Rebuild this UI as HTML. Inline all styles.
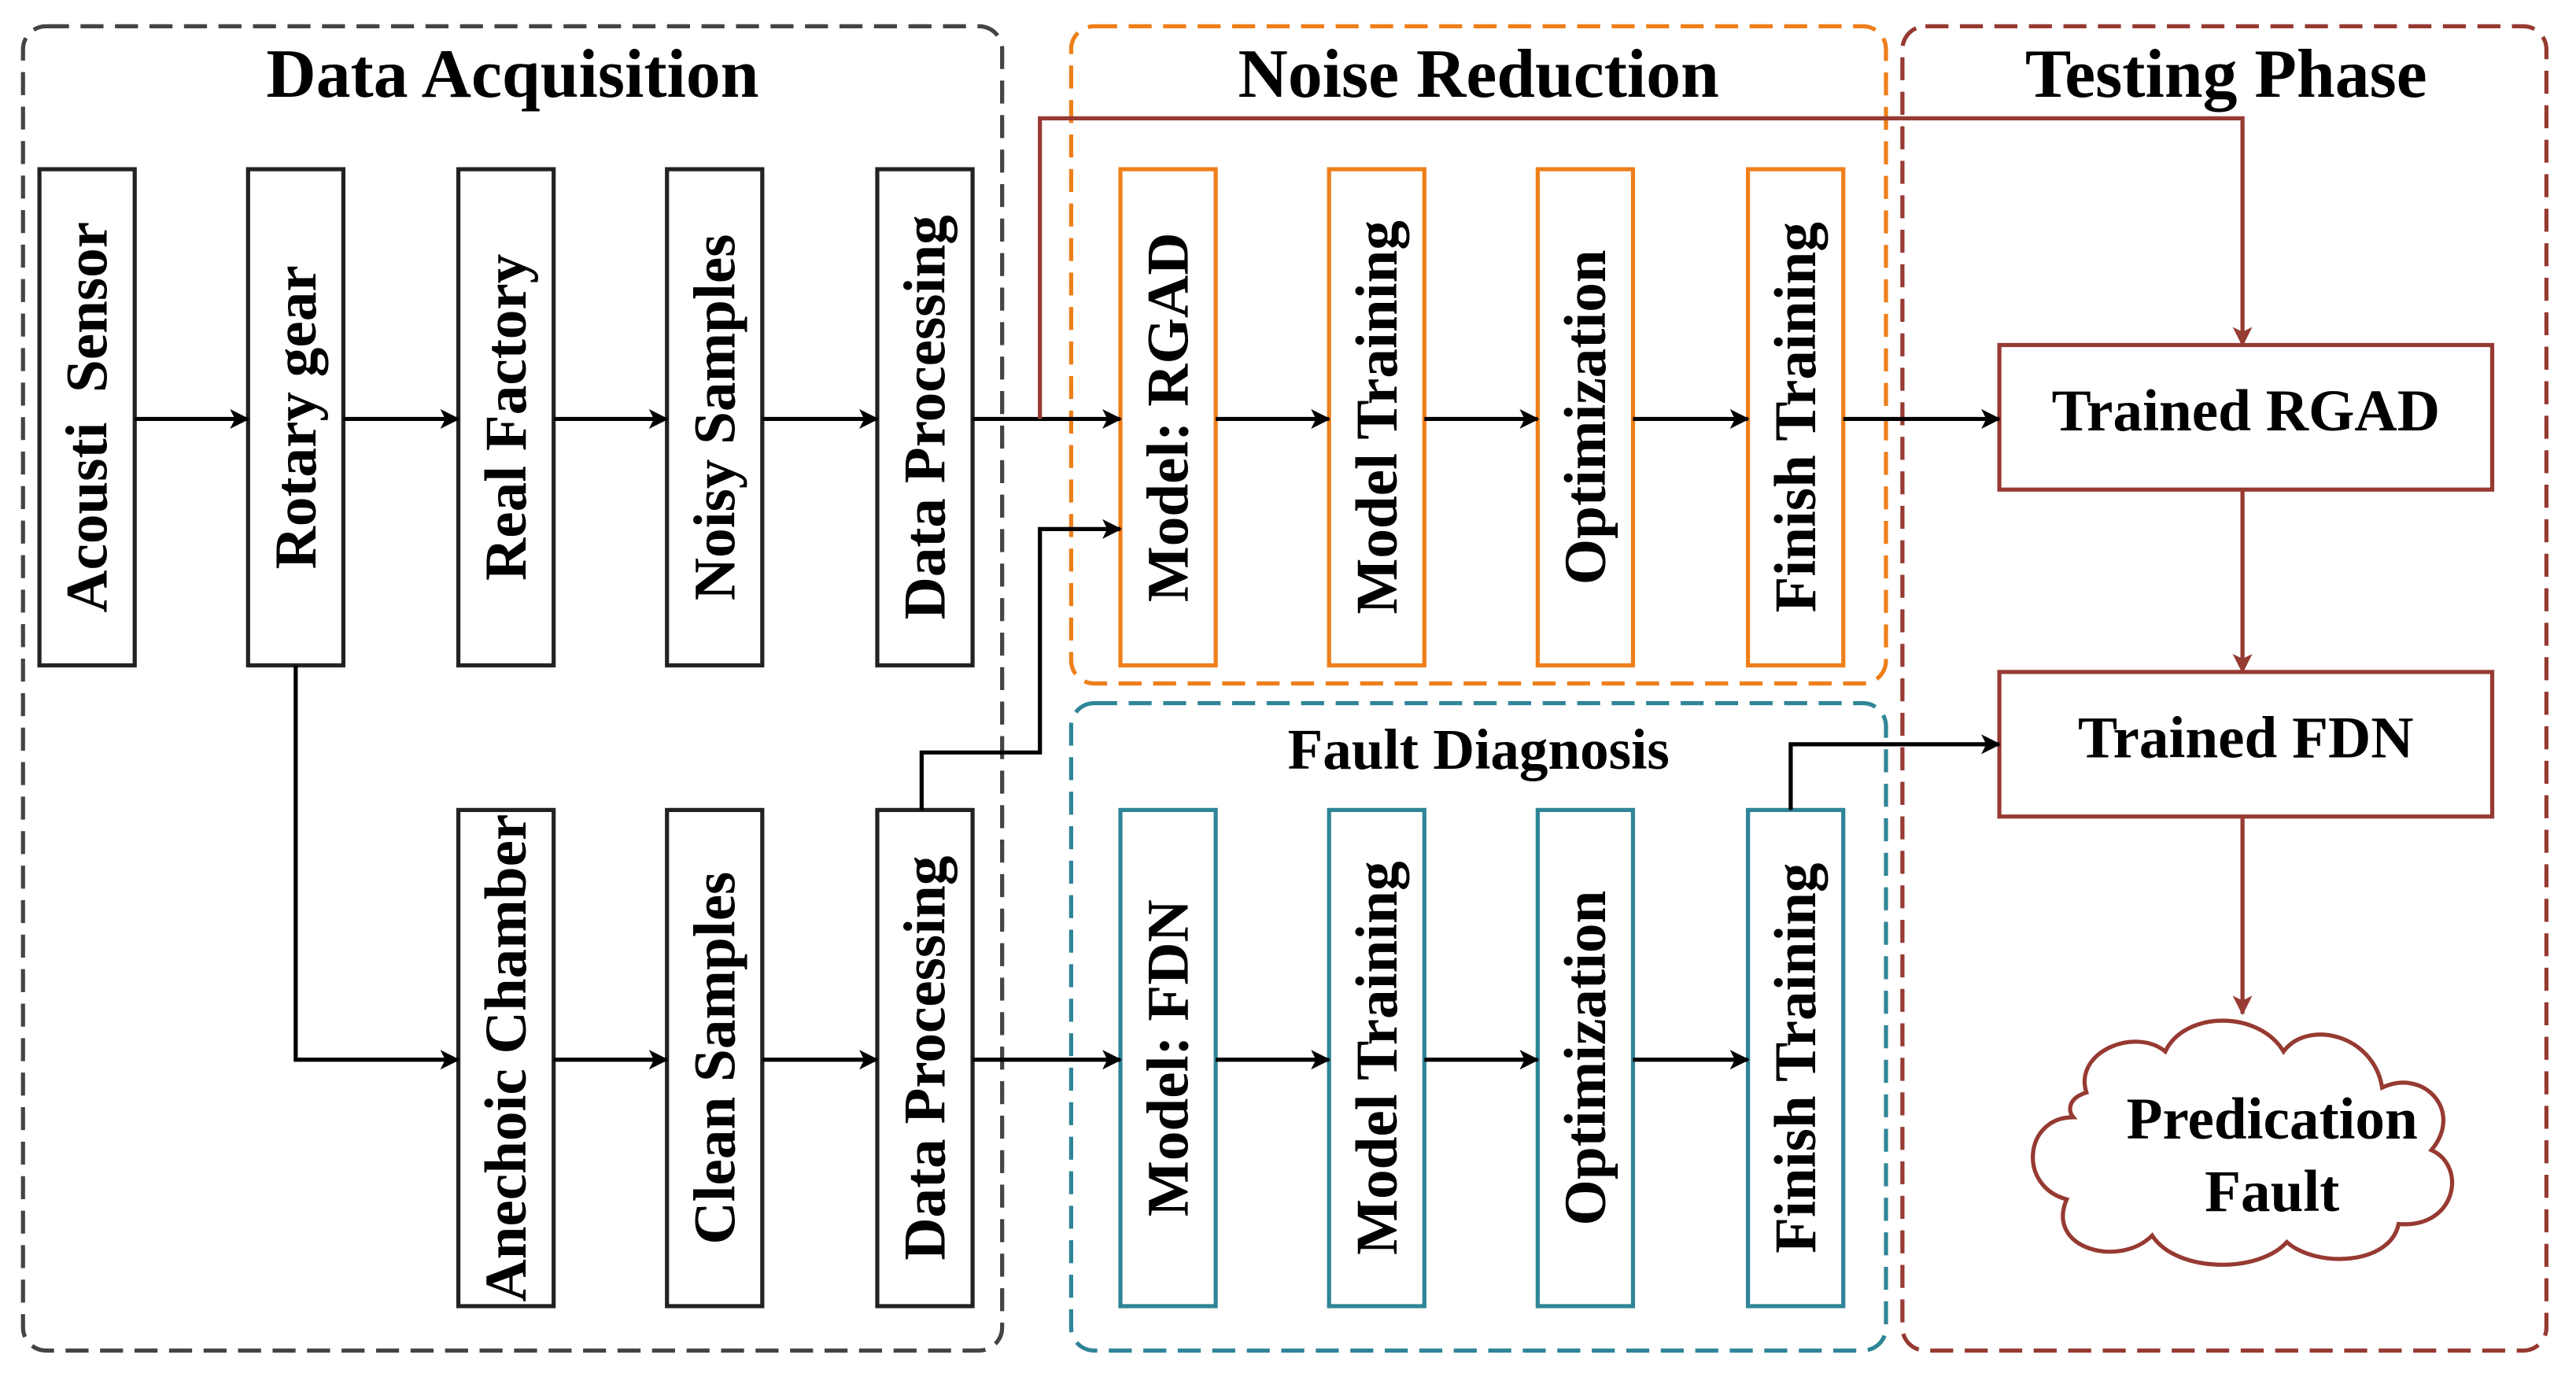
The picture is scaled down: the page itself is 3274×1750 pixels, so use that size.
<!DOCTYPE html>
<html><head><meta charset="utf-8"><style>html,body{margin:0;padding:0;background:#fff}svg{display:block}</style></head>
<body>
<svg width="3274" height="1750" viewBox="0 0 3274 1750" xmlns="http://www.w3.org/2000/svg">
<defs>
<marker id="ak" markerWidth="12" markerHeight="12" refX="11" refY="6" orient="auto" markerUnits="userSpaceOnUse"><path d="M0,0 L12,6 L0,12 L3,6 z" fill="#000"/></marker>
<marker id="ar" markerWidth="12" markerHeight="12" refX="11" refY="6" orient="auto" markerUnits="userSpaceOnUse"><path d="M0,0 L12,6 L0,12 L3,6 z" fill="#963a32"/></marker>
</defs>
<g transform="scale(2.088)" font-family="'Liberation Serif',serif" font-weight="bold">
<rect x="14" y="16" width="596" height="806" rx="14" fill="none" stroke="#444" stroke-width="2.5" stroke-dasharray="14,7"/>
<rect x="652" y="16" width="496" height="400" rx="14" fill="none" stroke="#ee7f1a" stroke-width="2.5" stroke-dasharray="14,7"/>
<rect x="652" y="428" width="496" height="394" rx="14" fill="none" stroke="#2f8597" stroke-width="2.5" stroke-dasharray="14,7"/>
<rect x="1158" y="16" width="392" height="806" rx="14" fill="none" stroke="#963a32" stroke-width="2.5" stroke-dasharray="14,7"/>
<g font-size="42" text-anchor="middle" fill="#000">
<text x="312" y="59">Data Acquisition</text>
<text x="900" y="59">Noise Reduction</text>
<text x="1355" y="59">Testing Phase</text>
</g>
<text x="900" y="468" font-size="35" text-anchor="middle">Fault Diagnosis</text>
<g fill="#fff" stroke-width="2.5">
<g stroke="#222">
<rect x="24" y="103" width="58" height="302"/><rect x="151" y="103" width="58" height="302"/>
<rect x="279" y="103" width="58" height="302"/><rect x="406" y="103" width="58" height="302"/>
<rect x="534" y="103" width="58" height="302"/>
<rect x="279" y="493" width="58" height="302"/><rect x="406" y="493" width="58" height="302"/>
<rect x="534" y="493" width="58" height="302"/>
</g>
<g stroke="#ee7f1a">
<rect x="682" y="103" width="58" height="302"/><rect x="809" y="103" width="58" height="302"/>
<rect x="936" y="103" width="58" height="302"/><rect x="1064" y="103" width="58" height="302"/>
</g>
<g stroke="#2f8597">
<rect x="682" y="493" width="58" height="302"/><rect x="809" y="493" width="58" height="302"/>
<rect x="936" y="493" width="58" height="302"/><rect x="1064" y="493" width="58" height="302"/>
</g>
<g stroke="#963a32">
<rect x="1217" y="210" width="300" height="88"/><rect x="1217" y="409" width="300" height="88"/>
</g>
</g>
<g font-size="36" text-anchor="middle" fill="#000">
<text transform="translate(65,254) rotate(-90)" xml:space="preserve">Acousti  Sensor</text>
<text transform="translate(192,254) rotate(-90)">Rotary gear</text>
<text transform="translate(320,254) rotate(-90)">Real Factory</text>
<text transform="translate(447,254) rotate(-90)">Noisy Samples</text>
<text transform="translate(575,254) rotate(-90)">Data Processing</text>
<text transform="translate(723,254) rotate(-90)">Model: RGAD</text>
<text transform="translate(850,254) rotate(-90)">Model Training</text>
<text transform="translate(977,254) rotate(-90)">Optimization</text>
<text transform="translate(1105,254) rotate(-90)">Finish Training</text>
<text transform="translate(320,644) rotate(-90)">Anechoic Chamber</text>
<text transform="translate(447,644) rotate(-90)">Clean Samples</text>
<text transform="translate(575,644) rotate(-90)">Data Processing</text>
<text transform="translate(723,644) rotate(-90)">Model: FDN</text>
<text transform="translate(850,644) rotate(-90)">Model Training</text>
<text transform="translate(977,644) rotate(-90)">Optimization</text>
<text transform="translate(1105,644) rotate(-90)">Finish Training</text>
</g>
<g font-size="36" text-anchor="middle" fill="#000">
<text x="1367" y="262">Trained RGAD</text>
<text x="1367" y="461">Trained FDN</text>
</g>
<g stroke="#000" stroke-width="2.5" fill="none" marker-end="url(#ak)">
<line x1="82" y1="255" x2="151" y2="255"/><line x1="209" y1="255" x2="279" y2="255"/>
<line x1="337" y1="255" x2="406" y2="255"/><line x1="464" y1="255" x2="534" y2="255"/>
<line x1="592" y1="255" x2="682" y2="255"/><line x1="740" y1="255" x2="809" y2="255"/>
<line x1="867" y1="255" x2="936" y2="255"/><line x1="994" y1="255" x2="1064" y2="255"/>
<line x1="1122" y1="255" x2="1217" y2="255"/>
<polyline points="180,405 180,645 279,645"/>
<line x1="337" y1="645" x2="406" y2="645"/><line x1="464" y1="645" x2="534" y2="645"/>
<line x1="592" y1="645" x2="682" y2="645"/><line x1="740" y1="645" x2="809" y2="645"/>
<line x1="867" y1="645" x2="936" y2="645"/><line x1="994" y1="645" x2="1064" y2="645"/>
<polyline points="561,493 561,458 633,458 633,322 682,322"/>
<polyline points="1090,493 1090,453 1217,453"/>
</g>
<g stroke="#963a32" stroke-width="2.5" fill="none" marker-end="url(#ar)">
<polyline points="633,255 633,72 1365,72 1365,210"/>
<line x1="1365" y1="298" x2="1365" y2="409"/>
<line x1="1365" y1="497" x2="1365" y2="617"/>
</g>
<path d="M1262,680 C1232,680 1228,722 1258,730 C1245,760 1290,772 1310,752 C1325,775 1375,775 1392,756 C1410,772 1455,770 1460,745 C1495,748 1502,710 1480,700 C1500,676 1475,650 1450,662 C1445,630 1405,620 1390,640 C1375,615 1330,615 1318,640 C1300,625 1262,640 1270,665 C1260,668 1258,675 1262,680 Z" fill="#fff" stroke="#963a32" stroke-width="2.5"/>
<g font-size="36" text-anchor="middle" fill="#000">
<text x="1383" y="693">Predication</text>
<text x="1383" y="737">Fault</text>
</g>
</g>
</svg>
</body></html>
